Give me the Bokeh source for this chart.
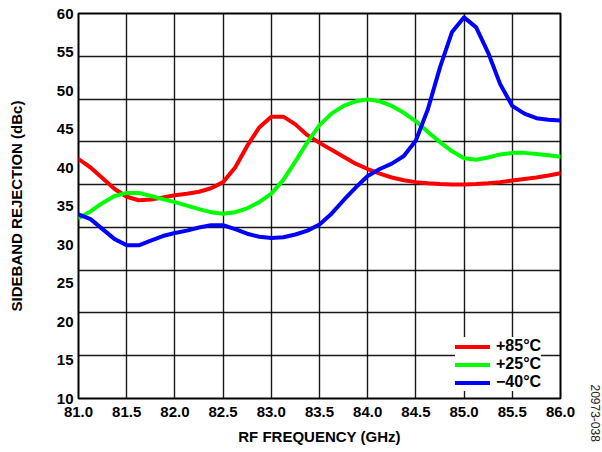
import math
from bokeh.plotting import figure
from bokeh.layouts import row
from bokeh.models import Range1d, FixedTicker, Legend, LegendItem
from bokeh.embed import file_html
from bokeh.resources import INLINE

# ---------------- data ----------------
freq_ghz = [81.0, 81.125, 81.25, 81.375, 81.5, 81.625, 81.75, 81.875,
            82.0, 82.125, 82.25, 82.375, 82.5, 82.625, 82.75, 82.875,
            83.0, 83.125, 83.25, 83.375, 83.5, 83.625, 83.75, 83.875,
            84.0, 84.125, 84.25, 84.375, 84.5, 84.625, 84.75, 84.875,
            85.0, 85.125, 85.25, 85.375, 85.5, 85.625, 85.75, 85.875, 86.0]

rej_p85 = [41.1, 40.0, 38.6, 37.2, 36.2, 35.75, 35.85, 36.1,
           36.4, 36.6, 36.85, 37.3, 38.1, 40.0, 42.8, 45.2,
           46.6, 46.6, 45.6, 44.2, 43.2, 42.3, 41.4, 40.5,
           39.8, 39.2, 38.7, 38.35, 38.1, 37.95, 37.85, 37.8,
           37.8, 37.85, 37.95, 38.1, 38.3, 38.5, 38.7, 38.95, 39.25]

rej_p25 = [33.4, 34.3, 35.4, 36.3, 36.7, 36.7, 36.3, 35.9,
           35.5, 35.05, 34.6, 34.2, 34.0, 34.2, 34.7, 35.5,
           36.6, 38.4, 40.8, 43.3, 45.5, 47.0, 48.0, 48.6,
           48.85, 48.6, 48.0, 47.1, 46.0, 44.6, 43.3, 42.1,
           41.2, 41.0, 41.3, 41.7, 41.9, 41.9, 41.75, 41.6, 41.4]

rej_m40 = [33.9, 33.3, 32.0, 30.7, 29.9, 29.9, 30.5, 31.1,
           31.5, 31.8, 32.2, 32.5, 32.5, 32.0, 31.4, 31.0,
           30.85, 30.95, 31.3, 31.8, 32.6, 34.0, 35.75, 37.4,
           38.9, 39.8, 40.5, 41.5, 43.5, 47.6, 53.0, 57.6,
           59.5, 58.2, 54.9, 50.8, 48.0, 47.0, 46.4, 46.2, 46.1]

series_names = ["+85°C", "+25°C", "\u221240°C"]
series_colors = ["#ff0000", "#00ff00", "#0000ff"]

x_ticks = [81.0, 81.5, 82.0, 82.5, 83.0, 83.5, 84.0, 84.5, 85.0, 85.5, 86.0]
x_tick_labels = ["81.0", "81.5", "82.0", "82.5", "83.0", "83.5",
                 "84.0", "84.5", "85.0", "85.5", "86.0"]
y_ticks = [10, 15, 20, 25, 30, 35, 40, 45, 50, 55, 60]
y_tick_labels = ["10", "15", "20", "25", "30", "35", "40", "45", "50", "55", "60"]
y_grid_count = 9  # the original grid has 9 horizontal divisions
figure_code = "20973-038"

FONT = "Liberation Sans"

# ---------------- main figure ----------------
p = figure(width=588, height=448, output_backend="svg", toolbar_location=None,
           x_range=Range1d(81.0, 86.0), y_range=Range1d(10, 60),
           min_border_left=78, min_border_right=28, min_border_top=13,
           min_border_bottom=50)

p.background_fill_color = "white"
p.border_fill_color = "white"
p.outline_line_color = "black"
p.outline_line_width = 2

# grid
p.xgrid.ticker = FixedTicker(ticks=x_ticks)
y0, y1 = y_ticks[0], y_ticks[-1]
p.ygrid.ticker = FixedTicker(ticks=[y0 + k * (y1 - y0) / y_grid_count
                                    for k in range(y_grid_count + 1)])
for g in (p.xgrid, p.ygrid):
    g.grid_line_color = "black"
    g.grid_line_width = 1.4
    g.grid_line_alpha = 0.9

# axes
p.xaxis.ticker = FixedTicker(ticks=x_ticks)
p.xaxis.major_label_overrides = dict(zip(x_ticks, x_tick_labels))
p.yaxis.ticker = FixedTicker(ticks=y_ticks)
p.yaxis.major_label_overrides = dict(zip(y_ticks, y_tick_labels))

p.xaxis.axis_label = "RF FREQUENCY (GHz)"
p.yaxis.axis_label = "SIDEBAND REJECTION (dBc)"
for ax in (p.xaxis, p.yaxis):
    ax.axis_line_color = None
    ax.major_tick_line_color = None
    ax.minor_tick_line_color = None
    ax.major_label_text_font = FONT
    ax.major_label_text_font_style = "bold"
    ax.major_label_text_font_size = "15px"
    ax.major_label_text_color = "black"
    ax.axis_label_text_font = FONT
    ax.axis_label_text_font_style = "bold"
    ax.axis_label_text_font_size = "15px"
    ax.axis_label_text_color = "black"
p.xaxis.major_label_standoff = 2
p.xaxis.axis_label_standoff = 8
p.yaxis.major_tick_out = 0
p.yaxis.major_tick_in = 0
p.yaxis.major_label_standoff = 5
p.yaxis.axis_label_standoff = 29

# curves
items = []
for name, color, vals in zip(series_names, series_colors, [rej_p85, rej_p25, rej_m40]):
    r = p.line(freq_ghz, vals, line_color=color, line_width=4,
               line_join="round", line_cap="round")
    items.append(LegendItem(label=name, renderers=[r]))

legend = Legend(items=items, location=(377, 7), margin=0, padding=6,
                spacing=0, glyph_width=35, glyph_height=15, label_height=15,
                label_standoff=6, label_text_font=FONT,
                label_text_font_style="bold", label_text_font_size="16px",
                label_text_color="black", background_fill_color="white",
                background_fill_alpha=1.0, border_line_color=None)
p.add_layout(legend, "center")

# ---------------- narrow side strip carrying the figure code ----------------
side = figure(width=14, height=448, output_backend="svg", toolbar_location=None,
              x_range=Range1d(0, 14), y_range=Range1d(0, 1),
              y_axis_location=None, min_border=0)
side.grid.visible = False
side.outline_line_color = None
side.background_fill_color = "white"
side.border_fill_color = "white"
side.xaxis.ticker = FixedTicker(ticks=[7])
side.xaxis.major_label_overrides = {7: figure_code}
side.xaxis.major_label_orientation = "vertical"
side.xaxis.axis_line_color = None
side.xaxis.major_tick_line_color = None
side.xaxis.minor_tick_line_color = None
side.xaxis.major_tick_out = 0
side.xaxis.major_tick_in = 0
side.xaxis.major_label_standoff = -14
side.xaxis.major_label_text_font = FONT
side.xaxis.major_label_text_font_size = "12px"
side.xaxis.major_label_text_color = "#222222"

layout = row(p, side, spacing=0)
open("out.html", "w").write(file_html(layout, INLINE))
